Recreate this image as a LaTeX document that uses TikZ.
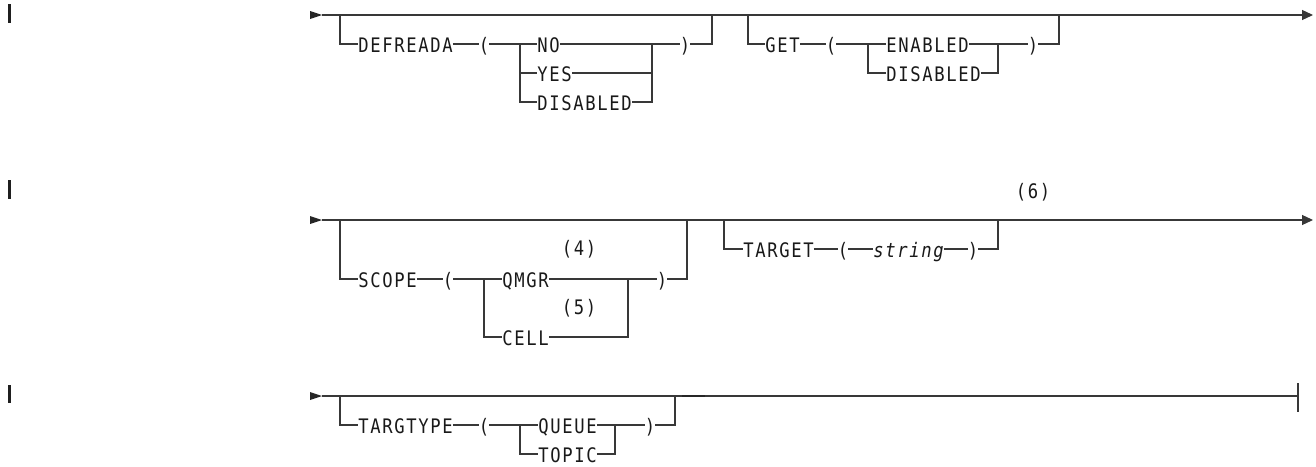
\documentclass[tikz,border=0pt]{standalone}
\usepackage{fontspec}
\newfontfamily\sdfont[FakeStretch=0.86,LetterSpace=8.2]{DejaVu Sans Mono}
\usetikzlibrary{arrows.meta}
\begin{document}
\begin{tikzpicture}[x=1pt,y=-1pt,
  rail/.style={line width=1.2pt, draw=black!78},
  kw/.style={font={\sdfont\fontsize{20pt}{22pt}\selectfont}, text=black!90, inner sep=0pt, outer sep=0.3pt, text height=16pt, text depth=0pt, anchor=west},
  par/.style={kw, anchor=center},
  note/.style={font={\sdfont\fontsize{20pt}{22pt}\selectfont}, text=black!90, inner sep=0pt, anchor=center},
  cbar/.style={line width=3pt, draw=black!88},
  tipfill/.style={fill=black!85},
  endtip/.style={-{Triangle[length=11pt,width=10pt]}}
]
\useasboundingbox (0,0) rectangle (1316,466);

% change bars
\draw[cbar] (9.5,4) -- (9.5,23);
\draw[cbar] (9.5,180) -- (9.5,199);
\draw[cbar] (9.5,385) -- (9.5,403);

% ================= row 1 =================
\coordinate (s1) at (322,15);
\coordinate (e1) at (1313,15);
\fill[tipfill] (310,11) -- (s1) -- (310,19) -- cycle;
\draw[rail,endtip] (s1) -- (e1);

% DEFREADA
\coordinate (d0) at (340,15);
\coordinate (d9) at (712,15);
\node[kw] (dfr) at (358,44) {DEFREADA};
\node[par] (dlp) at (484,44) {(};
\coordinate (dj1) at (520,44);
\coordinate (dj2) at (652,44);
\node[kw] (dno) at (537,44) {NO};
\node[kw] (dyes) at (537,73) {YES};
\node[kw] (ddis) at (537,102) {DISABLED};
\node[par] (drp) at (685,44) {)};
\draw[rail] (d0) |- (dfr.west);
\draw[rail] (dfr.east) -- (dlp.west);
\draw[rail] (dlp.east) -- (dno.west);
\draw[rail] (dj1) |- (dyes.west);
\draw[rail] (dj1) |- (ddis.west);
\draw[rail] (dno.east) -- (dj2);
\draw[rail] (dyes.east) -| (dj2);
\draw[rail] (ddis.east) -| (dj2);
\draw[rail] (dj2) -- (drp.west);
\draw[rail] (drp.east) -| (d9);

% GET
\coordinate (g0) at (748,15);
\coordinate (g9) at (1059,15);
\node[kw] (get) at (765,44) {GET};
\node[par] (glp) at (831,44) {(};
\coordinate (gj1) at (868,44);
\coordinate (gj2) at (998,44);
\node[kw] (gen) at (886,44) {ENABLED};
\node[kw] (gdis) at (886,73) {DISABLED};
\node[par] (grp) at (1033,44) {)};
\draw[rail] (g0) |- (get.west);
\draw[rail] (get.east) -- (glp.west);
\draw[rail] (glp.east) -- (gen.west);
\draw[rail] (gj1) |- (gdis.west);
\draw[rail] (gen.east) -- (gj2);
\draw[rail] (gdis.east) -| (gj2);
\draw[rail] (gj2) -- (grp.west);
\draw[rail] (grp.east) -| (g9);

% ================= row 2 =================
\coordinate (s2) at (322,220);
\coordinate (e2) at (1313,220);
\fill[tipfill] (310,216) -- (s2) -- (310,224) -- cycle;
\draw[rail,endtip] (s2) -- (e2);
\node[note] (n6) at (1033,192) {(6)};

% SCOPE
\coordinate (c0) at (340,220);
\coordinate (c9) at (687,220);
\node[kw] (scope) at (358,279) {SCOPE};
\node[par] (clp) at (448,279) {(};
\coordinate (cj1) at (484,279);
\coordinate (cj2) at (628,279);
\node[kw] (qmgr) at (502,279) {QMGR};
\node[kw] (cell) at (502,337) {CELL};
\node[note] (n4) at (579,249) {(4)};
\node[note] (n5) at (579,308) {(5)};
\node[par] (crp) at (662,279) {)};
\draw[rail] (c0) |- (scope.west);
\draw[rail] (scope.east) -- (clp.west);
\draw[rail] (clp.east) -- (qmgr.west);
\draw[rail] (cj1) |- (cell.west);
\draw[rail] (qmgr.east) -- (cj2);
\draw[rail] (cell.east) -| (cj2);
\draw[rail] (cj2) -- (crp.west);
\draw[rail] (crp.east) -| (c9);

% TARGET
\coordinate (t0) at (724,220);
\coordinate (t9) at (998,220);
\node[kw] (target) at (743,249) {TARGET};
\node[par] (tlp) at (843,249) {(};
\node[kw] (str) at (873,249) {\itshape string};
\node[par] (trp) at (973,249) {)};
\draw[rail] (t0) |- (target.west);
\draw[rail] (target.east) -- (tlp.west);
\draw[rail] (tlp.east) -- (str.west);
\draw[rail] (str.east) -- (trp.west);
\draw[rail] (trp.east) -| (t9);

% ================= row 3 =================
\coordinate (s3) at (322,396);
\coordinate (e3) at (1298,396);
\fill[tipfill] (310,392) -- (s3) -- (310,400) -- cycle;
\draw[rail] (s3) -- (e3);
\draw[rail] (1298,383) -- (1298,412);
\draw[line width=2.6pt, draw=black!85] (682,396) -- (705,396);

% TARGTYPE
\coordinate (y0) at (340,396);
\coordinate (y9) at (675,396);
\node[kw] (ttype) at (358,425) {TARGTYPE};
\node[par] (ylp) at (484,425) {(};
\coordinate (yj1) at (520,425);
\coordinate (yj2) at (615,425);
\node[kw] (queue) at (538,425) {QUEUE};
\node[kw] (topic) at (538,454) {TOPIC};
\node[par] (yrp) at (650,425) {)};
\draw[rail] (y0) |- (ttype.west);
\draw[rail] (ttype.east) -- (ylp.west);
\draw[rail] (ylp.east) -- (queue.west);
\draw[rail] (yj1) |- (topic.west);
\draw[rail] (queue.east) -- (yj2);
\draw[rail] (topic.east) -| (yj2);
\draw[rail] (yj2) -- (yrp.west);
\draw[rail] (yrp.east) -| (y9);
\end{tikzpicture}
\end{document}
